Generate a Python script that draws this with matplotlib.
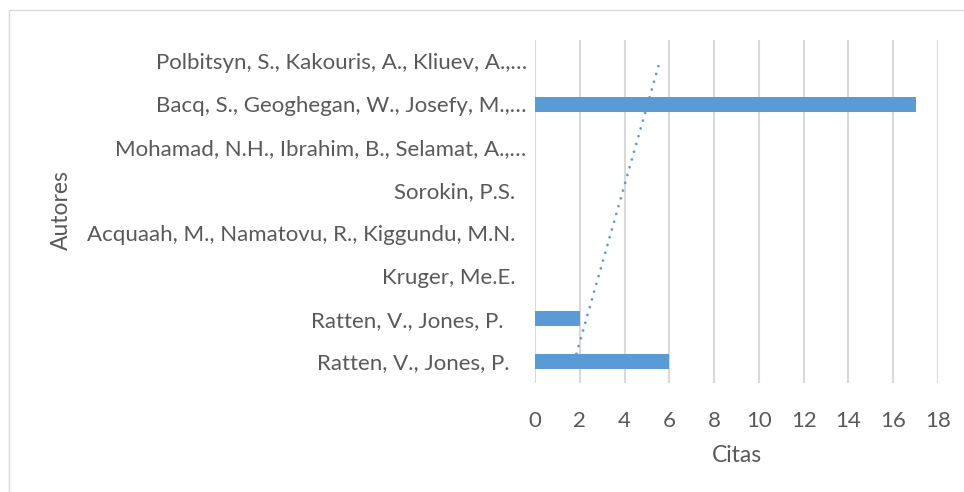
import matplotlib
matplotlib.use("Agg")
import matplotlib.pyplot as plt
from matplotlib.patches import Rectangle

autores = [
    "Ratten, V., Jones, P.   ",
    "Ratten, V., Jones, P.    ",
    "Kruger, Me.E.  ",
    "Acquaah, M., Namatovu, R., Kiggundu, M.N.  ",
    "Sorokin, P.S.  ",
    "Mohamad, N.H., Ibrahim, B., Selamat, A.,…",
    "Bacq, S., Geoghegan, W., Josefy, M.,…",
    "Polbitsyn, S., Kakouris, A., Kliuev, A.,…",
]
citas = [6, 2, 0, 0, 0, 0, 17, 0]
# linear trendline values at first and last category
tendencia = [1.85, 5.6]
xticks = [0, 2, 4, 6, 8, 10, 12, 14, 16, 18]

TXT = "#595959"
FONT = "Lato"

fig = plt.figure(figsize=(9.64, 4.92), dpi=100)
ax = fig.add_axes([535/964, 1-383/492, (938-535)/964, (383-40)/492])

pos = list(range(len(autores)))
ax.barh(pos, citas, height=0.35, color="#5B9BD5", zorder=3)
ax.plot(tendencia, [pos[0] + 0.18, pos[-1] + 0.05], color="#5B9BD5", lw=2.0,
        linestyle=(0, (0.01, 2.9)), dash_capstyle="round", zorder=4)

ax.set_xlim(0, 18)
ax.set_ylim(-0.5, 7.5)
ax.set_xticks(xticks)
ax.set_xticklabels([str(t) for t in xticks], fontsize=16, color=TXT, family=FONT)
ax.set_yticks(pos)
ax.set_yticklabels(autores, fontsize=16, color=TXT, family=FONT)
ax.tick_params(axis="both", length=0)
ax.tick_params(axis="x", pad=20)
ax.tick_params(axis="y", pad=6)
ax.grid(axis="x", color="#D9D9D9", lw=1.5, zorder=0)
for s in ax.spines.values():
    s.set_visible(False)

ax.set_xlabel("Citas", fontsize=16.5, color=TXT, family=FONT, labelpad=10)
fig.text(61/964, 1-210/492, "Autores", rotation=90, fontsize=16.5, color=TXT,
         family=FONT, ha="center", va="center")

fig.patches.append(Rectangle((9/964, -0.1), 1.2, (492-10)/492 + 0.1,
                             transform=fig.transFigure, fill=False,
                             edgecolor="#D9D9D9", lw=1.0))

fig.savefig("out.png", dpi=100)
